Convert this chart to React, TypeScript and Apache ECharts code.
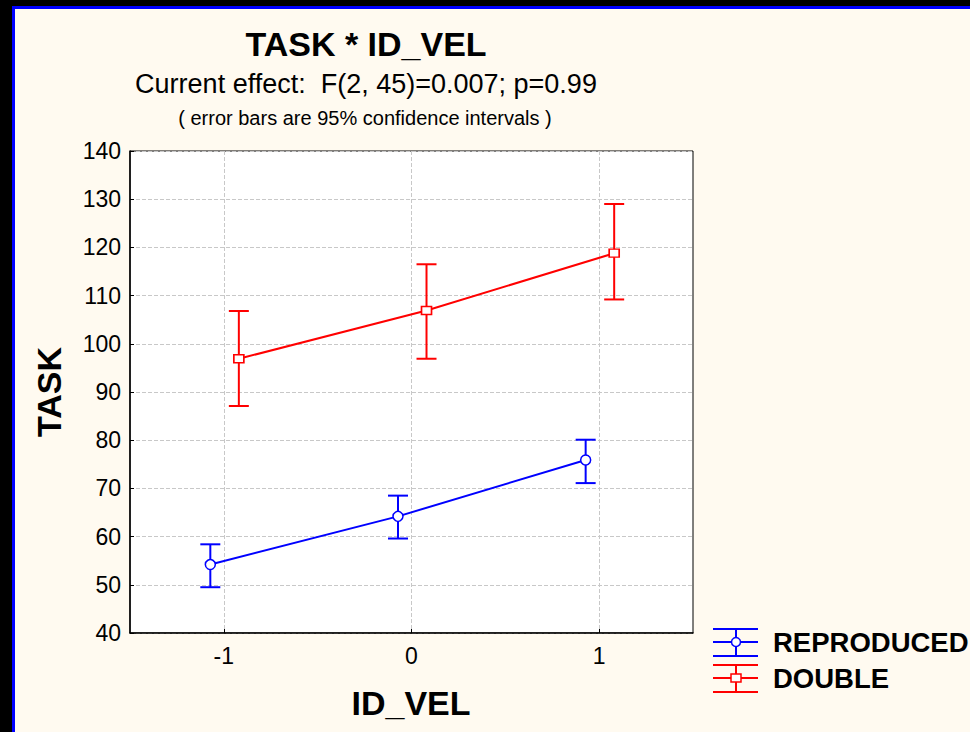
import React, { useEffect, useRef } from "react";
import * as echarts from "echarts";

const idVel = [-1, 0, 1];
const xTicks = [-1, 0, 1];
const reproducedMean = [54.2, 64.2, 75.9];
const reproducedLow = [49.5, 59.6, 71.1];
const reproducedHigh = [58.4, 68.5, 80.1];
const doubleMean = [96.9, 106.9, 118.8];
const doubleLow = [87.1, 96.9, 109.2];
const doubleHigh = [106.8, 116.5, 129.0];

const FONT = "'Liberation Sans', Arial, Helvetica, sans-serif";
const BLUE = "#0000ff";
const RED = "#ff0000";
const OFF_REP = -0.072;
const OFF_DBL = 0.08;

function errorSeries(name: string, color: string, off: number, low: number[], high: number[]) {
  return {
    name: name + " CI",
    type: "custom",
    z: 2,
    data: idVel.map((x, i) => [x + off, low[i], high[i]]),
    renderItem: (params: any, api: any) => {
      const x = api.value(0);
      const lo = api.coord([x, api.value(1)]);
      const hi = api.coord([x, api.value(2)]);
      const half = 10;
      const style = { stroke: color, lineWidth: 2 };
      return {
        type: "group",
        children: [
          { type: "line", shape: { x1: lo[0], y1: lo[1], x2: hi[0], y2: hi[1] }, style },
          { type: "line", shape: { x1: lo[0] - half, y1: lo[1], x2: lo[0] + half, y2: lo[1] }, style },
          { type: "line", shape: { x1: hi[0] - half, y1: hi[1], x2: hi[0] + half, y2: hi[1] }, style },
        ],
      };
    },
  };
}

function legendItem(y0: number, color: string, label: string, marker: any) {
  const x1 = 713, x2 = 758, xm = 736;
  const st = { stroke: color, lineWidth: 2 };
  return {
    type: "group",
    children: [
      { type: "line", shape: { x1, y1: y0 - 13, x2, y2: y0 - 13 }, style: st },
      { type: "line", shape: { x1, y1: y0, x2, y2: y0 }, style: st },
      { type: "line", shape: { x1, y1: y0 + 14, x2, y2: y0 + 14 }, style: st },
      { type: "line", shape: { x1: xm, y1: y0 - 13, x2: xm, y2: y0 + 14 }, style: st },
      marker,
      {
        type: "text",
        x: 773,
        y: y0,
        style: { text: label, font: `bold 27.5px ${FONT}`, fill: "#000", textVerticalAlign: "middle" },
      },
    ],
  };
}

export default function App() {
  const ref = useRef<HTMLDivElement>(null);
  useEffect(() => {
    const chart = echarts.init(ref.current!, null, { renderer: "svg" });
    chart.setOption({
      animation: false,
      backgroundColor: "transparent",
      grid: {
        left: 130,
        top: 151,
        width: 563,
        height: 482,
        show: true,
        backgroundColor: "#ffffff",
        borderColor: "#000",
        borderWidth: 1,
      },
      xAxis: {
        type: "value",
        min: -1.5,
        max: 1.5,
        axisLine: { onZero: false, lineStyle: { color: "#000", width: 1.5 } },
        axisTick: { show: true, inside: true, length: 4, customValues: xTicks, lineStyle: { color: "#000" } },
        axisLabel: {
          customValues: xTicks,
          color: "#000",
          fontFamily: FONT,
          fontSize: 23,
          margin: 11,
          formatter: (v: number) => String(v),
        },
        splitLine: { show: true, lineStyle: { color: "#c8c8c8", type: "dashed", width: 1 } },
      },
      yAxis: {
        type: "value",
        min: 40,
        max: 140,
        interval: 10,
        axisLine: { show: true, onZero: false, lineStyle: { color: "#000", width: 1.5 } },
        axisTick: { show: true, inside: true, length: 4, lineStyle: { color: "#000" } },
        axisLabel: { color: "#000", fontFamily: FONT, fontSize: 23, margin: 9 },
        splitLine: { show: true, lineStyle: { color: "#c8c8c8", type: "dashed", width: 1 } },
      },
      series: [
        errorSeries("REPRODUCED", BLUE, OFF_REP, reproducedLow, reproducedHigh),
        errorSeries("DOUBLE", RED, OFF_DBL, doubleLow, doubleHigh),
        {
          name: "REPRODUCED",
          type: "line",
          z: 3,
          data: idVel.map((x, i) => [x + OFF_REP, reproducedMean[i]]),
          lineStyle: { color: BLUE, width: 2 },
          symbol: "circle",
          symbolSize: 10,
          itemStyle: { color: "#fff", borderColor: BLUE, borderWidth: 1.5 },
        },
        {
          name: "DOUBLE",
          type: "line",
          z: 3,
          data: idVel.map((x, i) => [x + OFF_DBL, doubleMean[i]]),
          lineStyle: { color: RED, width: 2 },
          symbol: "rect",
          symbolSize: [10, 8],
          itemStyle: { color: "#fff", borderColor: RED, borderWidth: 1.5 },
        },
      ],
      graphic: [
        {
          type: "text",
          x: 366,
          y: 44,
          style: { text: "TASK * ID_VEL", font: `bold 34px ${FONT}`, fill: "#000", textAlign: "center", textVerticalAlign: "middle" },
        },
        {
          type: "text",
          x: 366,
          y: 84,
          style: { text: "Current effect:  F(2, 45)=0.007; p=0.99", font: `27px ${FONT}`, fill: "#000", textAlign: "center", textVerticalAlign: "middle" },
        },
        {
          type: "text",
          x: 365,
          y: 118,
          style: { text: "( error bars are 95% confidence intervals )", font: `20px ${FONT}`, fill: "#000", textAlign: "center", textVerticalAlign: "middle" },
        },
        {
          type: "text",
          x: 49,
          y: 392,
          rotation: Math.PI / 2,
          style: { text: "TASK", font: `bold 34px ${FONT}`, fill: "#000", textAlign: "center", textVerticalAlign: "middle" },
        },
        {
          type: "text",
          x: 411,
          y: 703,
          style: { text: "ID_VEL", font: `bold 34px ${FONT}`, fill: "#000", textAlign: "center", textVerticalAlign: "middle" },
        },
        legendItem(642, BLUE, "REPRODUCED", {
          type: "circle",
          shape: { cx: 736, cy: 642, r: 4.5 },
          style: { fill: "#fff", stroke: BLUE, lineWidth: 1.5 },
        }),
        legendItem(678, RED, "DOUBLE", {
          type: "rect",
          shape: { x: 731, y: 674, width: 10, height: 8 },
          style: { fill: "#fff", stroke: RED, lineWidth: 1.5 },
        }),
      ],
    });
    return () => chart.dispose();
  }, []);

  return (
    <div style={{ position: "fixed", left: 0, top: 0, width: 970, height: 732, background: "#000", overflow: "hidden" }}>
      <div
        style={{
          position: "absolute",
          left: 12,
          top: 6,
          width: 958,
          height: 726,
          boxSizing: "border-box",
          borderTop: "3px solid #0000ff",
          borderLeft: "3px solid #0000ff",
          background: "#fffaf0",
        }}
      />
      <div ref={ref} style={{ position: "absolute", left: 0, top: 0, width: 970, height: 732 }} />
    </div>
  );
}
